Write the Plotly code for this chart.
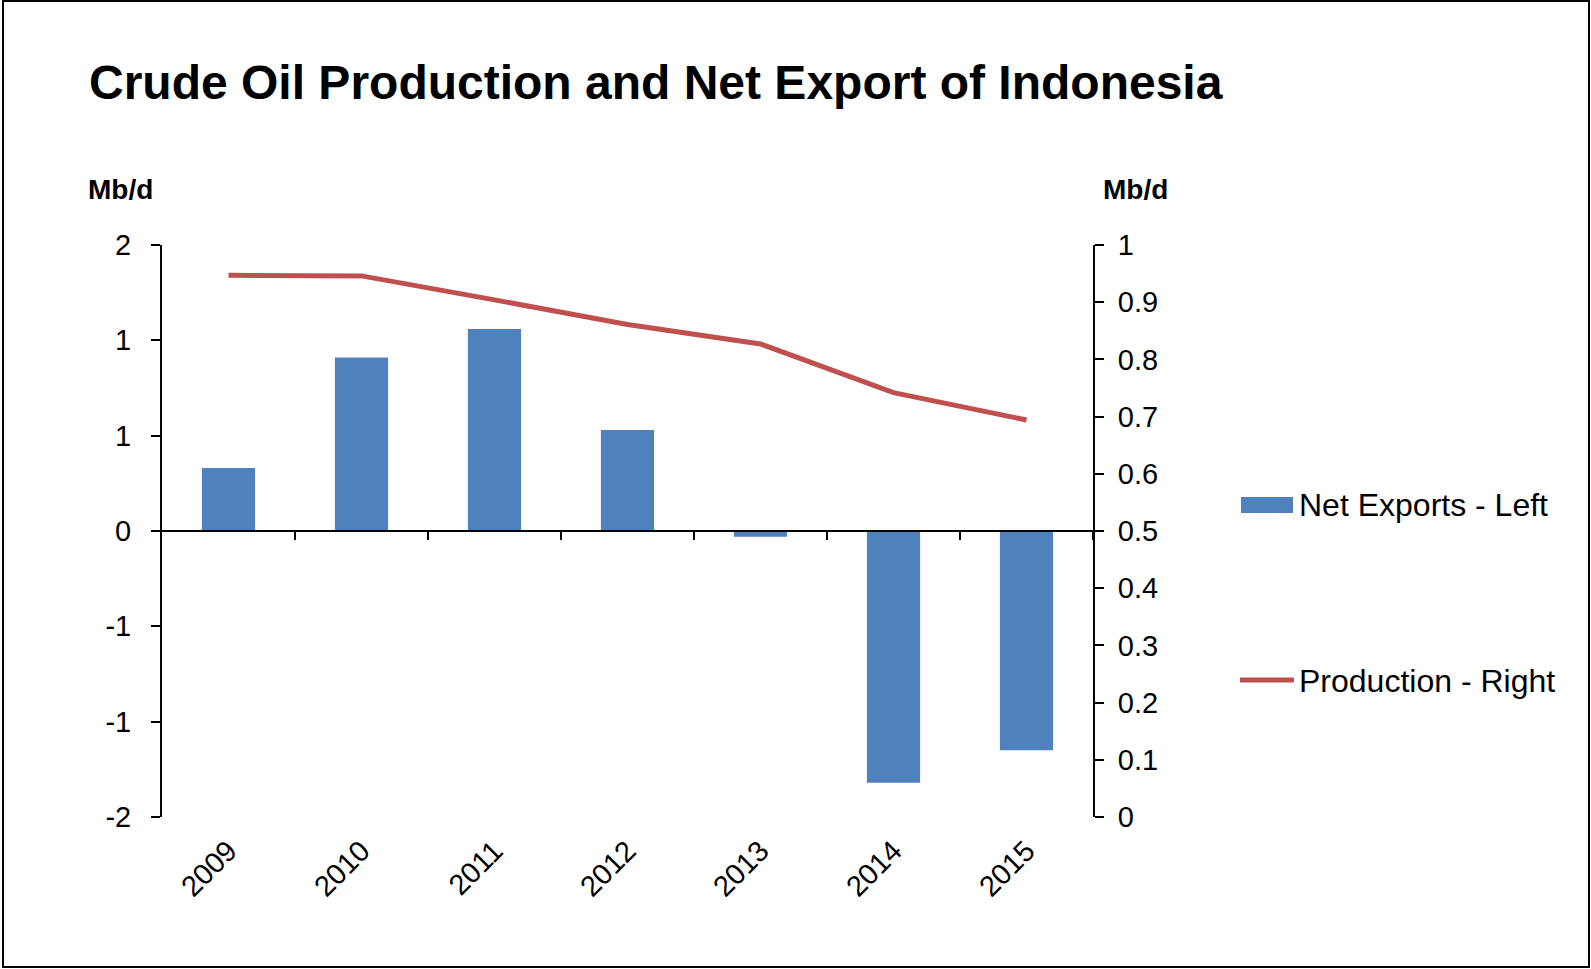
import plotly.graph_objects as go

# Indonesia crude oil: net exports (left axis) and production (right axis), Mb/d
years = ["2009", "2010", "2011", "2012", "2013", "2014", "2015"]
net_exports = [0.33, 0.91, 1.06, 0.53, -0.03, -1.32, -1.15]
production = [0.947, 0.946, 0.904, 0.861, 0.827, 0.742, 0.694]

left_tickvals = [-1.5, -1.0, -0.5, 0.0, 0.5, 1.0, 1.5]
left_ticktext = ["-2", "-1", "-1", "0", "1", "1", "2"]
right_tickvals = [i / 10 for i in range(11)]
right_ticktext = ["0", "0.1", "0.2", "0.3", "0.4", "0.5", "0.6", "0.7", "0.8", "0.9", "1"]

W, H = 1591, 969
BLUE = "#4F81BD"
RED = "#C0504D"
FONT = "Liberation Sans, Arial, Helvetica, sans-serif"


def px_x(x):
    return x / W


def px_y(y):
    return 1 - y / H


x_dom = [px_x(162), px_x(1093)]
y_dom = [px_y(817), px_y(245)]
zero_pos = y_dom[0] + (y_dom[1] - y_dom[0]) * (0 - (-1.5)) / 3.0

fig = go.Figure()

fig.add_trace(go.Bar(
    x=years, y=net_exports, name="Net Exports - Left",
    marker=dict(color=BLUE, line=dict(width=0)),
    xaxis="x", yaxis="y", showlegend=False,
))

fig.add_trace(go.Scatter(
    x=years, y=production, name="Production - Right",
    mode="lines", line=dict(color=RED, width=5),
    xaxis="x", yaxis="y2", showlegend=False,
))

# empty trace that keeps the zero-line axis active
fig.add_trace(go.Scatter(x=[], y=[], xaxis="x2", yaxis="y", showlegend=False))

boundaries = [i + 0.5 for i in range(len(years))]

fig.update_layout(
    width=W, height=H,
    margin=dict(l=0, r=0, t=0, b=0, autoexpand=False),
    paper_bgcolor="white", plot_bgcolor="white",
    font=dict(family=FONT, color="black", size=29),
    bargap=0.6,
    xaxis=dict(
        domain=x_dom, type="category", range=[-0.5, len(years) - 0.5],
        anchor="y", showline=False, showgrid=False, zeroline=False,
        ticks="", tickangle=-45, tickfont=dict(size=29),
        ticklabelstandoff=10, automargin=False,
    ),
    xaxis2=dict(
        overlaying="x", anchor="free", position=zero_pos,
        range=[-0.5, len(years) - 0.5], showline=True, linecolor="black",
        linewidth=2, showgrid=False, zeroline=False,
        tickmode="array", tickvals=boundaries, ticks="outside",
        ticklen=8, tickwidth=2, tickcolor="black", showticklabels=False,
        automargin=False,
    ),
    yaxis=dict(
        domain=y_dom, range=[-1.5, 1.5], showline=True, linecolor="black",
        linewidth=2, showgrid=False, zeroline=False,
        tickmode="array", tickvals=left_tickvals, ticktext=left_ticktext,
        ticks="outside", ticklen=9, tickwidth=2, tickcolor="black",
        tickfont=dict(size=29), ticklabelstandoff=14, automargin=False,
    ),
    yaxis2=dict(
        overlaying="y", side="right", anchor="x", range=[0, 1],
        domain=y_dom,
        showline=True, linecolor="black", linewidth=2, showgrid=False,
        zeroline=False, tickmode="array", tickvals=right_tickvals,
        ticktext=right_ticktext, ticks="outside", ticklen=9, tickwidth=2,
        tickcolor="black", tickfont=dict(size=29), ticklabelstandoff=8,
        automargin=False,
    ),
)

# outer frame
fig.add_shape(type="rect", xref="paper", yref="paper",
              x0=px_x(3), x1=px_x(1589), y0=px_y(967), y1=px_y(1),
              line=dict(color="black", width=2), fillcolor="rgba(0,0,0,0)")

# title and axis unit labels
fig.add_annotation(text="<b>Crude Oil Production and Net Export of Indonesia</b>",
                   xref="paper", yref="paper", x=px_x(87), y=px_y(83),
                   xanchor="left", yanchor="middle", showarrow=False,
                   font=dict(size=48, family=FONT, color="black"))
fig.add_annotation(text="<b>Mb/d</b>", xref="paper", yref="paper",
                   x=px_x(86), y=px_y(190), xanchor="left", yanchor="middle",
                   showarrow=False, font=dict(size=28, family=FONT))
fig.add_annotation(text="<b>Mb/d</b>", xref="paper", yref="paper",
                   x=px_x(1101), y=px_y(190), xanchor="left", yanchor="middle",
                   showarrow=False, font=dict(size=28, family=FONT))

# legend
fig.add_shape(type="rect", xref="paper", yref="paper",
              x0=px_x(1241), x1=px_x(1293), y0=px_y(513), y1=px_y(497),
              line=dict(width=0), fillcolor=BLUE)
fig.add_annotation(text="Net Exports - Left", xref="paper", yref="paper",
                   x=px_x(1297), y=px_y(505), xanchor="left", yanchor="middle",
                   showarrow=False, font=dict(size=32, family=FONT))
fig.add_shape(type="line", xref="paper", yref="paper",
              x0=px_x(1240), x1=px_x(1294), y0=px_y(680), y1=px_y(680),
              line=dict(color=RED, width=5))
fig.add_annotation(text="Production - Right", xref="paper", yref="paper",
                   x=px_x(1297), y=px_y(681), xanchor="left", yanchor="middle",
                   showarrow=False, font=dict(size=32, family=FONT))

fig.write_html("out.html")
